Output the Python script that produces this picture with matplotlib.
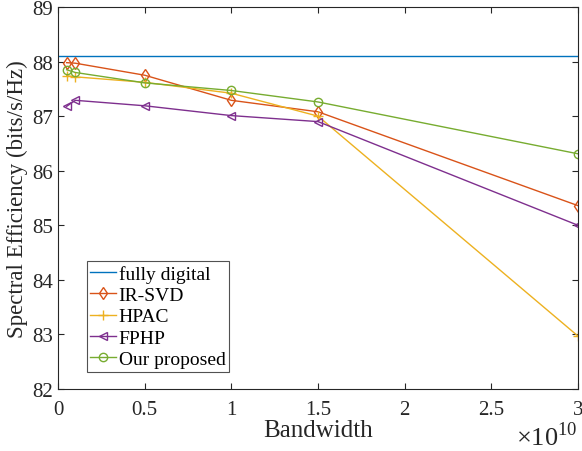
import matplotlib
matplotlib.use('Agg')
import matplotlib.pyplot as plt
import numpy as np

plt.rcParams['font.family'] = 'Liberation Serif'
plt.rcParams['mathtext.fontset'] = 'custom'
plt.rcParams['mathtext.rm'] = 'Liberation Serif'

# bandwidth values (Hz)
bandwidth = np.array([0.05e10, 0.1e10, 0.5e10, 1.0e10, 1.5e10, 3.0e10])

fully_digital = [88.10, 88.10, 88.10, 88.10, 88.10, 88.10]
ir_svd = [87.98, 87.97, 87.75, 87.29, 87.08, 85.36]
hpac = [87.74, 87.72, 87.62, 87.42, 87.00, 82.97]
fphp = [87.18, 87.29, 87.19, 87.01, 86.90, 85.00]
proposed = [87.85, 87.80, 87.61, 87.47, 87.26, 86.31]

xticks = [0, 0.5e10, 1e10, 1.5e10, 2e10, 2.5e10, 3e10]
xtick_labels = ['0', '0.5', '1', '1.5', '2', '2.5', '3']
yticks = [82, 83, 84, 85, 86, 87, 88, 89]


def main():
    fig = plt.figure(figsize=(5.82, 4.52), dpi=100)
    ax = fig.add_axes([58 / 582, 62 / 452, 520 / 582, 382 / 452])

    ax.plot([0, 3e10], [fully_digital[0], fully_digital[-1]], color='#0072BD', lw=1, label='fully digital')
    ax.plot(bandwidth, ir_svd, color='#D95319', lw=1, marker='d', mfc='none', ms=6, label='IR-SVD')
    ax.plot(bandwidth, hpac, color='#EDB120', lw=1, marker='+', ms=7, label='HPAC')
    ax.plot(bandwidth, fphp, color='#7E2F8E', lw=1, marker='<', mfc='none', ms=6, label='FPHP')
    ax.plot(bandwidth, proposed, color='#77AC30', lw=1, marker='o', mfc='none', ms=6, label='Our proposed')

    ax.set_xlim(0, 3e10)
    ax.set_ylim(82, 89)
    ax.set_xticks(xticks)
    ax.set_xticklabels(xtick_labels)
    ax.set_yticks(yticks)
    ax.tick_params(direction='in', top=True, right=True, labelsize=15, length=4,
                   color='#262626', labelcolor='#262626')
    ax.tick_params(axis='x', pad=8)
    for s in ax.spines.values():
        s.set_color('#262626')
        s.set_linewidth(0.8)

    ax.set_xlabel('Bandwidth', fontsize=18, labelpad=0, color='#262626')
    ax.set_ylabel('Spectral Efficiency (bits/s/Hz)', fontsize=16.5, labelpad=3, color='#262626')
    ax.text(0.998, -0.146, r'$\times10^{10}$', transform=ax.transAxes, ha='right', va='baseline',
            fontsize=19, color='#262626')

    leg = ax.legend(loc='lower left', bbox_to_anchor=(0.055, 0.045), fontsize=14, frameon=True,
                    fancybox=False, edgecolor='#262626', handlelength=1.3, handletextpad=0.15,
                    labelspacing=0.19, borderpad=0.2, borderaxespad=0)
    leg.get_frame().set_linewidth(0.8)

    fig.savefig('out.png', dpi=100)


if __name__ == '__main__':
    main()
